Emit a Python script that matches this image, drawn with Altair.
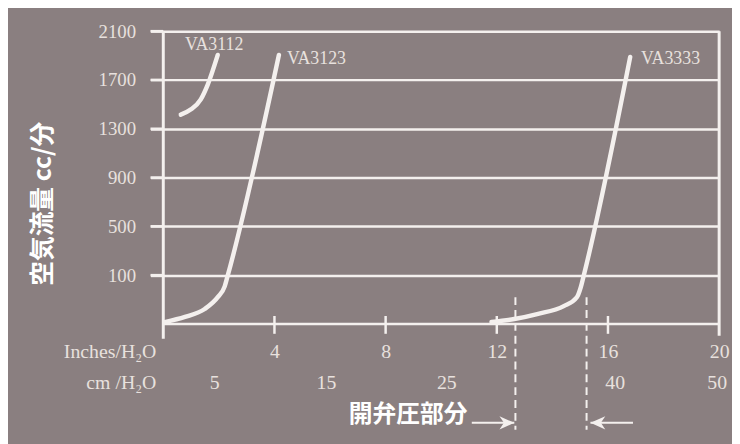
import altair as alt
import pandas as pd

# ---- data ----
va3112_x = [0.63, 1.00, 1.35, 1.60, 1.96]
va3112_y = [1416, 1459, 1541, 1662, 1905]
va3123_x = [0.05, 0.78, 1.49, 1.96, 2.21, 2.31, 4.16]
va3123_y = [-285, -243, -178, -81, 8, 89, 1905]
va3333_x = [11.81, 12.63, 13.45, 14.41, 14.88, 15.02, 15.12, 16.80]
va3333_y = [-284, -260, -219, -154, -81, 0, 89, 1889]

series_names = ["VA3112", "VA3123", "VA3333"]
series_label_x = [0.78, 4.45, 17.19]
series_label_y = [1990, 1873, 1869]

y_ticks = [100, 500, 900, 1300, 1700, 2100]
x_label_ticks = [4, 8, 12, 16, 20]
x_tick_marks = [4, 8, 12, 16]

cm_labels = ["5", "15", "25", "40", "50"]
cm_label_pos_inches = [1.85, 5.87, 10.20, 16.26, 19.93]

dashed_x = [12.67, 15.23]
arrow_from = [11.10, 16.90]
arrow_to = [12.63, 15.37]

# ---- tables ----
rows = []
for name, xs, ys in [("VA3112", va3112_x, va3112_y),
                     ("VA3123", va3123_x, va3123_y),
                     ("VA3333", va3333_x, va3333_y)]:
    for i, (a, b) in enumerate(zip(xs, ys)):
        rows.append({"series": name, "inch": a, "flow": b, "order": i})
curves = pd.DataFrame(rows)
labels_df = pd.DataFrame({"t": series_names, "inch": series_label_x, "flow": series_label_y})
cm_df = pd.DataFrame({"t": cm_labels, "inch": cm_label_pos_inches, "flow": -787})
ticks_df = pd.DataFrame({"inch": x_tick_marks, "flow": -235, "flow2": -381})
yticks_df = pd.DataFrame({"flow": y_ticks, "inch": -0.46, "inch2": 0})
dash_df = pd.DataFrame({"inch": dashed_x, "flow": -81, "flow2": -1168})
arrow_df = pd.DataFrame({"inch": arrow_from, "inch2": arrow_to, "flow": -1111,
                         "shape": ["M-1,-0.45L0,0L-1,0.45L-0.7,0Z", "M1,-0.45L0,0L1,0.45L0.7,0Z"]})
hline_df = pd.DataFrame({"inch": [0], "inch2": [20], "flow": [-300]})
vline_df = pd.DataFrame({"inch": [0, 20], "flow": [-422, -397], "flow2": [2100, 2100]})
unit_df = pd.DataFrame({"t": ["Inches/H₂O", "cm /H₂O"], "inch": [0, 0], "flow": [-527, -787]})

XS = alt.Scale(domain=[0, 20], nice=False, zero=False)
YS = alt.Scale(domain=[-300, 2100], nice=False, zero=False)
WHITE = "#f4f0ee"
LABEL = "#e8e1de"
SERIF = "Liberation Serif"
CJK = "Noto Sans CJK JP"

XA = alt.Axis(
    values=x_label_ticks, grid=False, domain=False, ticks=False, format="d",
    labelPadding=28, labelBaseline="middle", labelFlush=False,
    labelFont=SERIF, labelFontSize=20, labelColor=LABEL,
    title="開弁圧部分", titleFont=CJK, titleFontSize=24, titleFontWeight="bold",
    titleColor="white", titleX=247, titleY=92, titleAlign="center",
    titleBaseline="middle")
YA = alt.Axis(
    values=y_ticks, grid=True, gridColor=WHITE, gridWidth=2.5, format="d",
    domain=False, ticks=True, tickColor=WHITE, tickWidth=2.5, tickSize=13,
    labelPadding=15, labelFont=SERIF, labelFontSize=19, labelColor=LABEL,
    title="空気流量 cc/分", titleFont=CJK, titleFontSize=25, titleFontWeight="bold",
    titleColor="white", titleX=-122, titleY=174, titleAlign="center",
    titleBaseline="middle", titleAngle=270)


def X(f="inch"):
    return alt.X(f + ":Q", scale=XS, axis=XA)


def Y(f="flow"):
    return alt.Y(f + ":Q", scale=YS, axis=YA)


main = alt.Chart(curves).mark_line(
    color=WHITE, strokeWidth=4.5, interpolate="monotone", strokeCap="round"
).encode(x=X(), y=Y(), detail="series:N", order="order:Q")

hline = alt.Chart(hline_df).mark_rule(color=WHITE, strokeWidth=2.5).encode(
    x=X(), x2="inch2:Q", y=Y())

vlines = alt.Chart(vline_df).mark_rule(color=WHITE, strokeWidth=3).encode(
    x=X(), y=Y(), y2="flow2:Q")

ytick_marks = alt.Chart(yticks_df).mark_rule(color=WHITE, strokeWidth=2.5).encode(
    x=X(), x2="inch2:Q", y=Y())

tick_marks = alt.Chart(ticks_df).mark_rule(color=WHITE, strokeWidth=2.5).encode(
    x=X(), y=Y(), y2="flow2:Q")

dashes = alt.Chart(dash_df).mark_rule(color=WHITE, strokeWidth=2, strokeDash=[8, 5]).encode(
    x=X(), y=Y(), y2="flow2:Q")

arrow_shafts = alt.Chart(arrow_df).mark_rule(color=WHITE, strokeWidth=2).encode(
    x=X(), x2="inch2:Q", y=Y())

arrow_heads = alt.Chart(arrow_df).mark_point(filled=True, color=WHITE, size=900, opacity=1).encode(
    x=X("inch2"), y=Y(), shape=alt.Shape("shape:N", scale=None))

series_text = alt.Chart(labels_df).mark_text(
    align="left", baseline="middle", font=SERIF, fontSize=18, color=LABEL).encode(
    x=X(), y=Y(), text="t:N")

cm_text = alt.Chart(cm_df).mark_text(
    align="center", baseline="middle", font=SERIF, fontSize=20, color=LABEL).encode(
    x=X(), y=Y(), text="t:N")

unit_text = alt.Chart(unit_df).mark_text(
    align="right", baseline="middle", font=SERIF, fontSize=20, color=LABEL, dx=-7).encode(
    x=X(), y=Y(), text="t:N")

chart = alt.layer(
    main, hline, vlines, ytick_marks, tick_marks, dashes, arrow_shafts, arrow_heads,
    series_text, cm_text, unit_text
).properties(
    width=562, height=296,
    autosize=alt.AutoSizeParams(type="none"),
    padding={"left": 157, "top": 21, "right": 13, "bottom": 119},
    background="#8a7f80",
).configure_view(stroke=None)

chart.save("out.html", embed_options={"renderer": "svg", "actions": False})
